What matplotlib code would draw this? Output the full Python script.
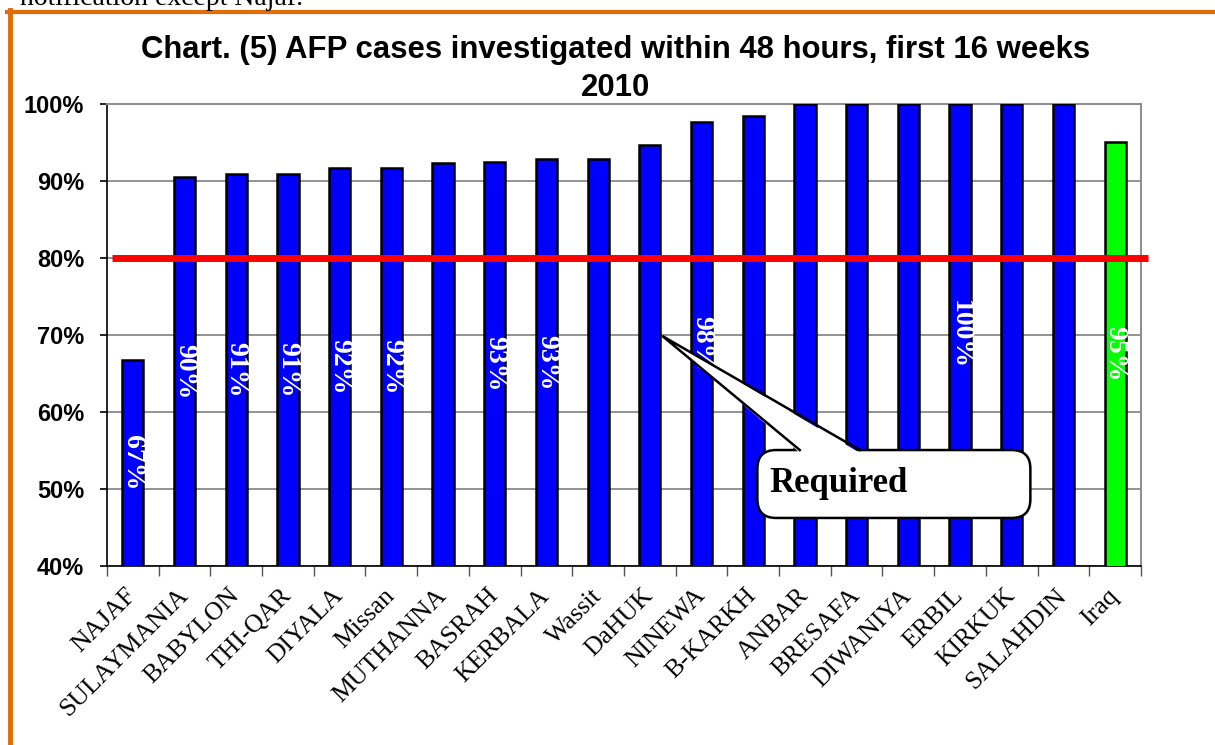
import matplotlib
matplotlib.use("Agg")
import matplotlib.pyplot as plt
from matplotlib.patches import FancyBboxPatch, Polygon
from matplotlib.lines import Line2D
import numpy as np

# ---- data ----
categories = ["NAJAF", "SULAYMANIA", "BABYLON", "THI-QAR", "DIYALA", "Missan",
              "MUTHANNA", "BASRAH", "KERBALA", "Wassit", "DaHUK", "NINEWA",
              "B-KARKH", "ANBAR", "BRESAFA", "DIWANIYA", "ERBIL", "KIRKUK",
              "SALAHDIN", "Iraq"]
values = [66.7, 90.5, 90.9, 90.9, 91.7, 91.7, 92.3, 92.5, 92.9, 92.9,
          94.7, 97.7, 98.5, 100, 100, 100, 100, 100, 100, 95.1]
bar_labels = ["67%", "90%", "91%", "91%", "92%", "92%", "", "93%", "93%", "",
              "", "98%", "", "", "", "", "100%", "", "", "95%"]
target = 80
yticks = [40, 50, 60, 70, 80, 90, 100]
ytick_labels = ["40%", "50%", "60%", "70%", "80%", "90%", "100%"]
title = "Chart. (5) AFP cases investigated within 48 hours, first 16 weeks\n2010"
callout_text = "Required"
top_text = "notification except Najaf."

W, H = 1215, 745
fig = plt.figure(figsize=(W / 100, H / 100), dpi=100)

def px(x0, y0, x1, y1):
    return [x0 / W, 1 - y1 / H, (x1 - x0) / W, (y1 - y0) / H]

ax = fig.add_axes(px(107, 104, 1141, 566))

n = len(categories)
x = np.arange(n)
colors = ["#0000FF"] * (n - 1) + ["#00FF00"]
ax.bar(x, values, width=0.41, color=colors, edgecolor="black", linewidth=1.8,
       zorder=3)

ax.set_xlim(-0.5, n - 0.5)
ax.set_ylim(40, 100)

# grid
ax.set_yticks(yticks)
ax.set_yticklabels(ytick_labels, fontfamily="Liberation Sans", fontweight="bold",
                   fontsize=17)
ax.yaxis.grid(True, color="#808080", linewidth=1.2, zorder=0)
ax.tick_params(axis="y", direction="out", length=5, width=1.2, pad=11.5, color="black")

# x ticks: marks at boundaries, labels at centers
ax.set_xticks(np.arange(-0.5, n, 1.0))
ax.set_xticklabels([])
ax.tick_params(axis="x", which="major", direction="out", length=7, width=1.0,
               color="#555555")
ax.set_xticks(x, minor=True)
ax.set_xticklabels(categories, minor=True, rotation=45, ha="right",
                   va="center", rotation_mode="anchor",
                   fontfamily="Liberation Serif", fontsize=18.5)
ax.tick_params(axis="x", which="minor", length=0, pad=19)

for s in ["top", "right"]:
    ax.spines[s].set_color("#909090")
    ax.spines[s].set_linewidth(1.5)
for s in ["left", "bottom"]:
    ax.spines[s].set_color("black")
    ax.spines[s].set_linewidth(1.2)

# bar value labels (centered within the visible bar)
for xi, v, lab in zip(x, values, bar_labels):
    if lab:
        ax.text(xi, (40 + v) / 2, lab, rotation=270, ha="center", va="center",
                color="white", fontfamily="Liberation Serif", fontweight="bold",
                fontsize=20, zorder=4)

# target line
ax.add_line(Line2D([0.005, 1.007], [target, target], color="#FF0000",
                   linewidth=5, transform=ax.get_yaxis_transform(),
                   clip_on=False, zorder=5, solid_capstyle="butt"))

# callout
bx0, bx1, by0, by1 = 0.629, 0.893, 0.104, 0.251
tip = (0.537, 0.498)
wb0, wb1 = 0.670, 0.728
box = FancyBboxPatch((bx0, by0), bx1 - bx0, by1 - by0,
                     boxstyle="round,pad=0,rounding_size=0.018",
                     transform=ax.transAxes, facecolor="white",
                     edgecolor="black", linewidth=1.8, zorder=6,
                     mutation_aspect=1034 / 462)
ax.add_patch(box)
wedge = Polygon([(wb0, by1 - 0.006), tip, (wb1, by1 - 0.006)], closed=True,
                transform=ax.transAxes, facecolor="white", edgecolor="none",
                zorder=7)
ax.add_patch(wedge)
ax.add_line(Line2D([wb0, tip[0], wb1], [by1, tip[1], by1], color="black",
                   linewidth=1.8, transform=ax.transAxes, zorder=8,
                   solid_joinstyle="miter"))
ax.text(bx0 + 0.012, (by0 + by1) / 2, callout_text, transform=ax.transAxes,
        ha="left", va="center", fontfamily="Liberation Serif",
        fontweight="bold", fontsize=25, zorder=9)

# title
fig.text(616 / W, 1 - 69 / H, title, ha="center", va="center",
         fontfamily="Liberation Sans", fontweight="bold", fontsize=22.4,
         linespacing=1.38)

# orange frame
fig.add_artist(Line2D([9.5 / W, 9.5 / W], [0, 1 - 10 / H], color="#E36C0A",
                      linewidth=3.5, transform=fig.transFigure))
fig.add_artist(Line2D([7 / W, 1], [1 - 12 / H, 1 - 12 / H], color="#E36C0A",
                      linewidth=3.0, transform=fig.transFigure))

# cut-off text at top
fig.text(20 / W, 1 - 5 / H, top_text, ha="left", va="baseline",
         fontfamily="Liberation Serif", fontsize=20)

fig.savefig("out.png", dpi=100)
